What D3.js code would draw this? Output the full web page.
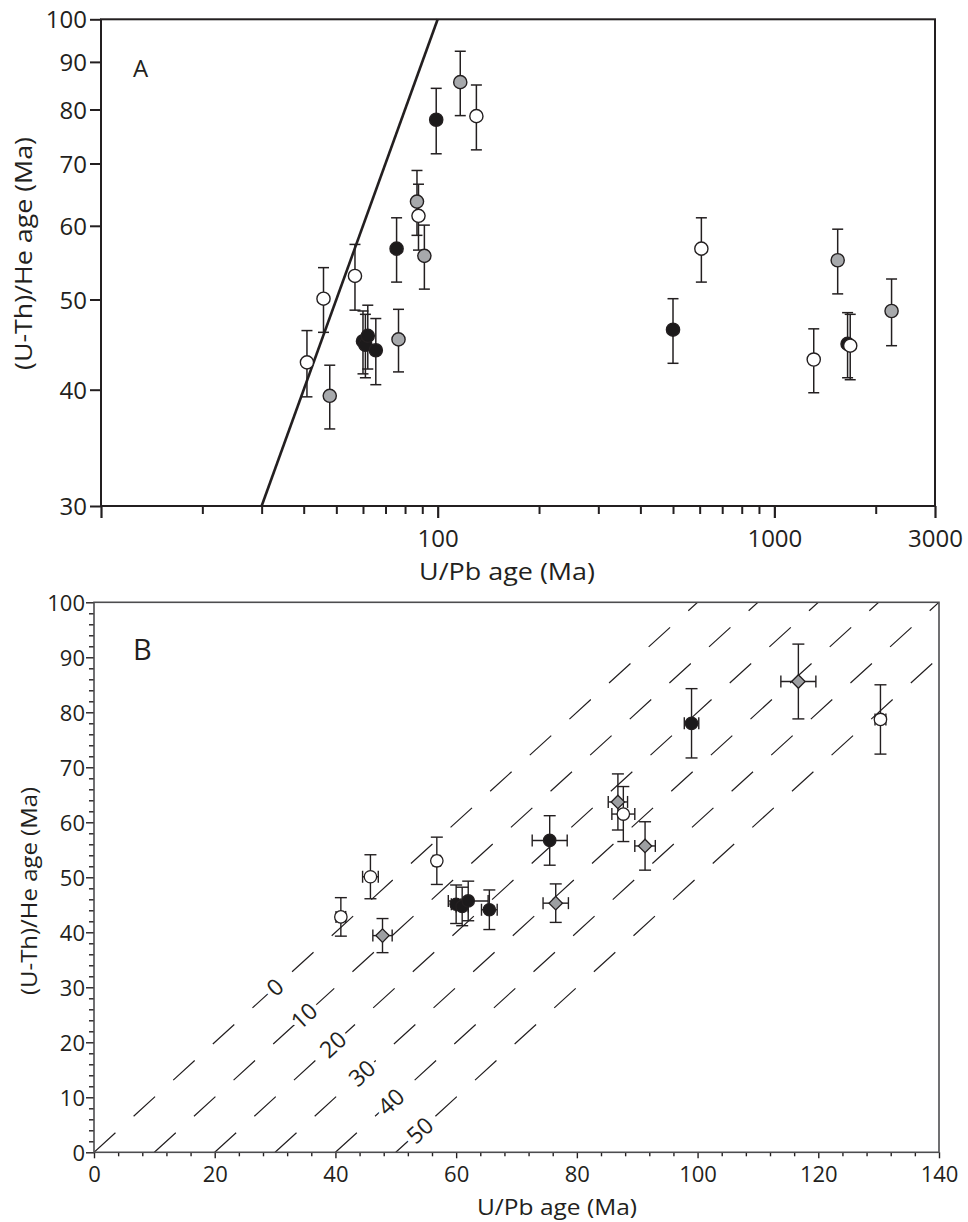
<!DOCTYPE html>
<html><head><meta charset="utf-8">
<script src="https://cdn.jsdelivr.net/npm/d3@7"></script>
<style>
body{margin:0;background:#fff;}
svg text{font-family:"Open Sans",sans-serif;fill:#231f20;}
</style></head><body>
<svg id="chart" width="968" height="1222"></svg>
<script>
// ---------- data ----------
const upbAge = [40.9, 45.8, 47.8, 56.8, 60.0, 61.0, 62.0, 65.5, 75.5, 76.5, 86.8, 87.7, 91.3, 99.0, 116.7, 130.3, 500, 607, 1309, 1542, 1650, 1680, 2229];
const upbErr = [0.8, 1.3, 1.6, 0.6, 0.8, 1.0, 3.3, 1.3, 2.9, 2.1, 1.6, 1.9, 1.7, 1.2, 2.9, 0.9, 0, 0, 0, 0, 0, 0, 0];
const heAge  = [42.8, 50.1, 39.4, 53.0, 45.1, 44.7, 45.7, 44.1, 56.7, 45.3, 63.7, 61.5, 55.7, 78.0, 85.6, 78.7, 46.4, 56.7, 43.1, 55.1, 44.8, 44.6, 48.6];
const heErr  = [3.5, 4.0, 3.1, 4.3, 3.5, 3.5, 3.6, 3.6, 4.5, 3.5, 5.1, 5.0, 4.4, 6.3, 6.8, 6.3, 3.7, 4.5, 3.4, 4.4, 3.6, 3.6, 4.0];
const group  = ["open","open","gray","open","black","black","black","black","black","gray","gray","open","gray","black","gray","open","black","open","open","gray","black","open","gray"];

const yTicksA = [30, 40, 50, 60, 70, 80, 90, 100];
const xMajorA = [10, 100, 1000, 3000];
const xLabelsA = [100, 1000, 3000];
const xMinorA = [20, 30, 40, 50, 60, 70, 80, 90, 200, 300, 400, 500, 600, 700, 800, 900, 2000];
const offsetsB = [0, 10, 20, 30, 40, 50];

const points = upbAge.map((d, i) => ({x: d, xe: upbErr[i], y: heAge[i], ye: heErr[i], g: group[i]}));
const fills = {open: "#ffffff", gray: "#a7a9ac", black: "#1c1a1b"};
const ink = "#231f20";

const svg = d3.select("#chart");

// ---------- Panel A ----------
const xA = d3.scaleLog().domain([10, 3000]).range([101, 935]);
const yA = d3.scaleLog().domain([30, 100]).range([506, 19.3]);
const gA = svg.append("g");

gA.append("line")
  .attr("x1", xA(30)).attr("y1", yA(30)).attr("x2", xA(100)).attr("y2", yA(100))
  .attr("stroke", ink).attr("stroke-width", 2.6);

const axYA = gA.append("g").attr("transform", `translate(${xA(10)},0)`)
  .call(d3.axisLeft(yA).tickValues(yTicksA).tickSize(11).tickFormat(d3.format("d")));
axYA.select(".domain").remove();
axYA.selectAll("line").attr("stroke", ink).attr("stroke-width", 2);
axYA.selectAll("text").attr("x", -14).attr("dy", "0.36em").style("font-size", "24px").attr("fill", ink);

const axXAmin = gA.append("g").attr("transform", `translate(0,${yA(30)})`)
  .call(d3.axisBottom(xA).tickValues(xMinorA).tickSize(8).tickFormat(""));
axXAmin.select(".domain").remove();
axXAmin.selectAll("line").attr("stroke", ink).attr("stroke-width", 2);

const axXAmaj = gA.append("g").attr("transform", `translate(0,${yA(30)})`)
  .call(d3.axisBottom(xA).tickValues(xMajorA).tickSize(12)
    .tickFormat(d => xLabelsA.includes(d) ? d3.format("d")(d) : ""));
axXAmaj.select(".domain").remove();
axXAmaj.selectAll("line").attr("stroke", ink).attr("stroke-width", 2.2);
axXAmaj.selectAll("text").attr("y", 41).attr("dy", 0).style("font-size", "24px").attr("fill", ink);

gA.append("rect")
  .attr("x", xA(10)).attr("y", yA(100))
  .attr("width", xA(3000) - xA(10)).attr("height", yA(30) - yA(100))
  .attr("fill", "none").attr("stroke", ink).attr("stroke-width", 2);

const capA = 5.5;
const ebA = gA.append("g").attr("stroke", ink).attr("stroke-width", 1.5);
points.forEach(p => {
  const x = xA(p.x), y1 = yA(p.y + p.ye), y2 = yA(p.y - p.ye);
  ebA.append("line").attr("x1", x).attr("x2", x).attr("y1", y1).attr("y2", y2);
  ebA.append("line").attr("x1", x - capA).attr("x2", x + capA).attr("y1", y1).attr("y2", y1);
  ebA.append("line").attr("x1", x - capA).attr("x2", x + capA).attr("y1", y2).attr("y2", y2);
});
gA.append("g").selectAll("circle").data(points).join("circle")
  .attr("cx", d => xA(d.x)).attr("cy", d => yA(d.y)).attr("r", 6.6)
  .attr("fill", d => fills[d.g]).attr("stroke", ink).attr("stroke-width", 1.4);

gA.append("text").attr("x", 133).attr("y", 77).style("font-size", "24px").text("A");

gA.append("text").attr("x", 507).attr("y", 580).attr("text-anchor", "middle")
  .style("font-size", "24px").attr("textLength", 176).attr("lengthAdjust", "spacingAndGlyphs")
  .text("U/Pb age (Ma)");
gA.append("text").attr("transform", "translate(32,253.5) rotate(-90)").attr("text-anchor", "middle")
  .style("font-size", "24px").attr("textLength", 233).attr("lengthAdjust", "spacingAndGlyphs")
  .text("(U-Th)/He age (Ma)");

// ---------- Panel B ----------
const xB = d3.scaleLinear().domain([0, 140]).range([94, 939]);
const yB = d3.scaleLinear().domain([0, 100]).range([1152.3, 602.3]);
const gB = svg.append("g");
const ptsB = points.filter(p => p.x <= 140);

svg.append("defs").append("clipPath").attr("id", "clipB").append("rect")
  .attr("x", xB(0)).attr("y", yB(100)).attr("width", xB(140) - xB(0)).attr("height", yB(0) - yB(100));

const dashG = gB.append("g").attr("clip-path", "url(#clipB)");
offsetsB.forEach(o => {
  const xEnd = Math.min(100 + o, 140);
  dashG.append("line")
    .attr("x1", xB(o)).attr("y1", yB(0)).attr("x2", xB(xEnd)).attr("y2", yB(xEnd - o))
    .attr("stroke", ink).attr("stroke-width", 1.2).attr("stroke-dasharray", "29,24.6");
});
const ang = -Math.atan2(yB(0) - yB(1), xB(1) - xB(0)) * 180 / Math.PI;
offsetsB.forEach(o => {
  const lx = 30 + 0.48 * o, ly = lx - o;
  gB.append("text")
    .attr("transform", `translate(${xB(lx)},${yB(ly)}) rotate(${ang})`)
    .attr("text-anchor", "middle").attr("dy", "0.36em")
    .style("font-size", "23px")
    .attr("stroke", "#fff").attr("stroke-width", 9).attr("paint-order", "stroke")
    .text(o);
});

const yMinorB = d3.range(0, 101, 2).filter(v => v % 10 !== 0);
const xMinorB = d3.range(0, 141, 4).filter(v => v % 20 !== 0);
const axYBmin = gB.append("g").attr("transform", `translate(${xB(0)},0)`)
  .call(d3.axisLeft(yB).tickValues(yMinorB).tickSize(5).tickFormat(""));
axYBmin.select(".domain").remove();
const axYB = gB.append("g").attr("transform", `translate(${xB(0)},0)`)
  .call(d3.axisLeft(yB).tickValues(d3.range(0, 101, 10)).tickSize(8));
axYB.select(".domain").remove();
axYB.selectAll("text").attr("x", -9).attr("dy", "0.36em").style("font-size", "22px").attr("fill", ink);

const axXBmin = gB.append("g").attr("transform", `translate(0,${yB(0)})`)
  .call(d3.axisBottom(xB).tickValues(xMinorB).tickSize(4).tickFormat(""));
axXBmin.select(".domain").remove();
const axXB = gB.append("g").attr("transform", `translate(0,${yB(0)})`)
  .call(d3.axisBottom(xB).tickValues(d3.range(0, 141, 20)).tickSize(6));
axXB.select(".domain").remove();
axXB.selectAll("text").attr("y", 30).attr("dy", 0).style("font-size", "22px").attr("fill", ink);
gB.selectAll(".tick line").attr("stroke", ink).attr("stroke-width", 1.4);

gB.append("rect")
  .attr("x", xB(0)).attr("y", yB(100)).attr("width", xB(140) - xB(0)).attr("height", yB(0) - yB(100))
  .attr("fill", "none").attr("stroke", "#4d4d4f").attr("stroke-width", 1.6);

const capB = 6;
const ebB = gB.append("g").attr("stroke", ink).attr("stroke-width", 1.4);
ptsB.forEach(p => {
  const x = xB(p.x), y = yB(p.y), y1 = yB(p.y + p.ye), y2 = yB(p.y - p.ye);
  ebB.append("line").attr("x1", x).attr("x2", x).attr("y1", y1).attr("y2", y2);
  ebB.append("line").attr("x1", x - capB).attr("x2", x + capB).attr("y1", y1).attr("y2", y1);
  ebB.append("line").attr("x1", x - capB).attr("x2", x + capB).attr("y1", y2).attr("y2", y2);
  if (p.xe > 0) {
    const x1 = xB(p.x - p.xe), x2 = xB(p.x + p.xe);
    ebB.append("line").attr("x1", x1).attr("x2", x2).attr("y1", y).attr("y2", y);
    ebB.append("line").attr("x1", x1).attr("x2", x1).attr("y1", y - capB).attr("y2", y + capB);
    ebB.append("line").attr("x1", x2).attr("x2", x2).attr("y1", y - capB).attr("y2", y + capB);
  }
});
const sq = d3.symbol().type(d3.symbolSquare).size(90);
gB.append("g").selectAll("path").data(ptsB.filter(p => p.g === "gray")).join("path")
  .attr("d", sq).attr("transform", d => `translate(${xB(d.x)},${yB(d.y)}) rotate(45)`)
  .attr("fill", "#9d9fa2").attr("stroke", ink).attr("stroke-width", 1.3);
gB.append("g").selectAll("circle").data(ptsB.filter(p => p.g !== "gray")).join("circle")
  .attr("cx", d => xB(d.x)).attr("cy", d => yB(d.y)).attr("r", 6.2)
  .attr("fill", d => fills[d.g]).attr("stroke", ink).attr("stroke-width", 1.3);

gB.append("text").attr("x", 133).attr("y", 660).style("font-size", "29px").text("B");
gB.append("text").attr("x", 557).attr("y", 1215).attr("text-anchor", "middle")
  .style("font-size", "22px").attr("textLength", 160).attr("lengthAdjust", "spacingAndGlyphs")
  .text("U/Pb age (Ma)");
gB.append("text").attr("transform", "translate(37,891) rotate(-90)").attr("text-anchor", "middle")
  .style("font-size", "22px").attr("textLength", 208).attr("lengthAdjust", "spacingAndGlyphs")
  .text("(U-Th)/He age (Ma)");
</script>
</body></html>
